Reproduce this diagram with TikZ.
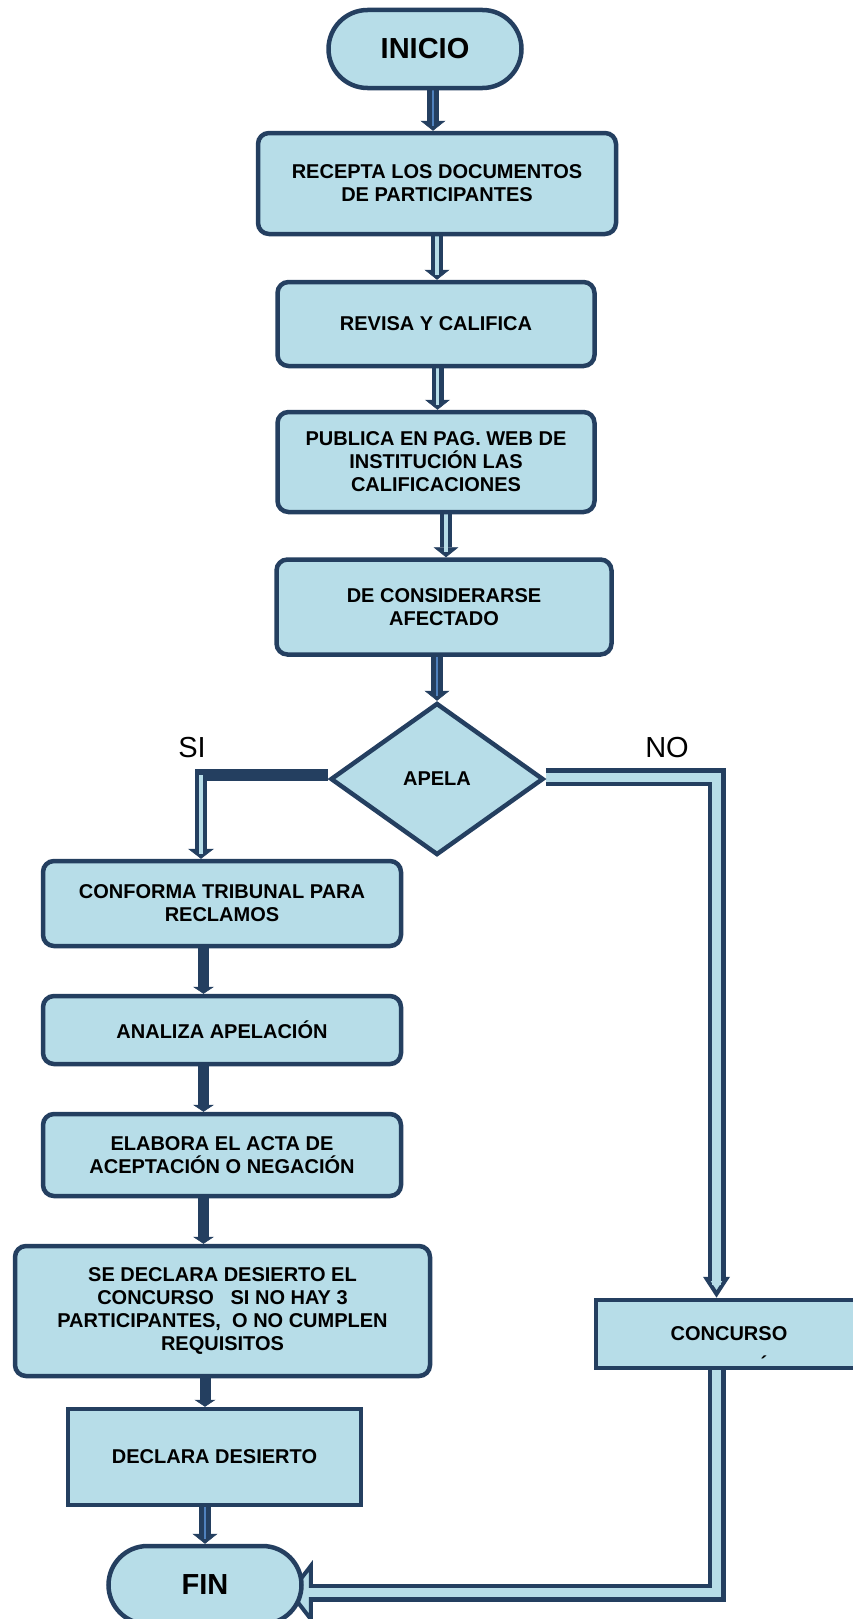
\documentclass[tikz,border=0pt]{standalone}
\usepackage{fontspec}
\setmainfont{Liberation Sans}
\usetikzlibrary{arrows.meta,shapes.geometric}
\definecolor{edgeblue}{HTML}{243F60}
\definecolor{boxfill}{HTML}{B7DDE8}
\definecolor{midblue}{HTML}{4F81BD}
\pgfdeclarelayer{back}
\pgfsetlayers{back,main}
\begin{document}
\begin{tikzpicture}[x=1pt,y=-1pt,
  every node/.style={font=\fontsize{20}{23}\selectfont\bfseries, align=center, text=black},
  box/.style={draw=edgeblue, fill=boxfill, line width=4.5pt, rounded corners=11pt, inner sep=0pt},
  sqbox/.style={draw=edgeblue, fill=boxfill, line width=4.5pt, inner sep=0pt},
  term/.style={draw=edgeblue, fill=boxfill, line width=4.5pt, rounded corners=39pt, inner sep=0pt,
    minimum width=193pt, minimum height=78pt, font=\fontsize{29}{33}\selectfont\bfseries},
  choice/.style={diamond, draw=edgeblue, fill=boxfill, line width=4.5pt, inner sep=0pt},
  branch/.style={font=\fontsize{29}{33}\selectfont},
  % narrow block arrows: dark casing plus a light core
  thinout/.style={draw=edgeblue, line width=12pt, -{Triangle[width=25pt,length=10pt,line width=0.5pt]}},
  thincore/.style={draw=boxfill, line width=3.5pt, shorten >=5pt},
  bluecore/.style={draw=midblue, line width=2.5pt, shorten >=5pt},
  solidlink/.style={draw=edgeblue, line width=11pt, -{Triangle[width=21pt,length=7pt,line width=0.5pt]}},
  % wide block arrows with outlined heads
  wideout/.style={draw=edgeblue, line width=18pt, line join=miter},
  widecore/.style={draw=boxfill, line width=9pt, line join=miter},
]
\useasboundingbox (0,0) rectangle (853,1619);
\clip (0,0) rectangle (853,1619);

% main column
\node[term] (ini) at (425,49) {INICIO};
\node[box, minimum width=358pt, minimum height=101pt] (rec) at (437,183.5) {RECEPTA LOS DOCUMENTOS\\DE PARTICIPANTES};
\node[box, minimum width=317pt, minimum height=84pt] (rev) at (436,324) {REVISA Y CALIFICA};
\node[box, minimum width=317pt, minimum height=100pt] (pub) at (436,462) {PUBLICA EN PAG. WEB DE\\INSTITUCIÓN LAS\\CALIFICACIONES};
\node[box, minimum width=335pt, minimum height=95pt] (cons) at (444,607) {DE CONSIDERARSE\\AFECTADO};
\node[choice, minimum width=213pt, minimum height=152pt] (dec) at (437,779) {APELA};
\node[branch] (lsi) at (192,748) {SI};
\node[branch] (lno) at (667,748) {NO};

% left branch
\node[box, minimum width=358pt, minimum height=85pt] (conf) at (222,903.5) {CONFORMA TRIBUNAL PARA\\RECLAMOS};
\node[box, minimum width=358pt, minimum height=68pt] (ana) at (222,1030) {ANALIZA APELACIÓN};
\node[box, minimum width=358pt, minimum height=82pt] (ela) at (222,1155) {ELABORA EL ACTA DE\\ACEPTACIÓN O NEGACIÓN};
\node[box, minimum width=415pt, minimum height=130pt] (sed) at (222.5,1311) {SE DECLARA DESIERTO EL\\CONCURSO\ \ \ SI NO HAY 3\\PARTICIPANTES,\ \ O NO CUMPLEN\\REQUISITOS};
\node[sqbox, minimum width=293pt, minimum height=96pt] (desi) at (214.5,1457) {DECLARA DESIERTO};
\node[term] (fin) at (205,1585) {FIN};

% right branch
\node[sqbox, minimum width=266pt, minimum height=68pt] (conc) at (729,1334) {CONCURSO};
\node[anchor=base] (acc) at (764,1370) {´};

% bend points of the two branches
\coordinate (sistart) at ([yshift=4pt]dec.west);
\coordinate (nostart) at ([yshift=2pt]dec.east);
\coordinate (siend) at ([xshift=-21pt]conf.north);
\coordinate (noend) at ([xshift=-12.5pt]conc.north);
\coordinate (finend) at ([xshift=-16pt,yshift=-7.5pt]fin.east);

\begin{pgfonlayer}{back}
\clip (0,0) rectangle (853,1619);
% INICIO -> RECEPTA
\draw[thinout] ([xshift=8pt]ini.south) -- ([xshift=8pt]ini.south |- rec.north);
\draw[bluecore] ([xshift=8pt]ini.south) -- ([xshift=8pt]ini.south |- rec.north);
% RECEPTA -> REVISA
\draw[thinout] (rec.south) -- (rec.south |- rev.north);
\draw[thincore] (rec.south) -- (rec.south |- rev.north);
% REVISA -> PUBLICA
\draw[thinout] ([xshift=1.5pt]rev.south) -- ([xshift=1.5pt]rev.south |- pub.north);
\draw[thincore] ([xshift=1.5pt]rev.south) -- ([xshift=1.5pt]rev.south |- pub.north);
% PUBLICA -> DE CONSIDERARSE
\draw[thinout] ([xshift=10pt]pub.south) -- ([xshift=10pt]pub.south |- cons.north);
\draw[thincore] ([xshift=10pt]pub.south) -- ([xshift=10pt]pub.south |- cons.north);
% DE CONSIDERARSE -> APELA
\draw[thinout] (dec.north |- cons.south) -- (dec.north);
\draw[bluecore] (dec.north |- cons.south) -- (dec.north);
% SI branch
\draw[draw=edgeblue, line width=12pt, -{Triangle[width=26pt,length=10pt,line width=0.5pt]}]
  (sistart) -| (siend);
\draw[thincore] (siend |- sistart) -- (siend);
% NO branch
\draw[wideout, -{Triangle[width=26pt,length=21pt,line width=4pt,fill=boxfill]}]
  (nostart) -| (noend);
\draw[widecore, shorten >=13pt] (nostart) -| (noend);
% left column
\draw[solidlink] ([xshift=-18.5pt]conf.south) -- ([xshift=-18.5pt]conf.south |- ana.north);
\draw[solidlink] ([xshift=-18.5pt]ana.south) -- ([xshift=-18.5pt]ana.south |- ela.north);
\draw[solidlink] ([xshift=-18.5pt]ela.south) -- ([xshift=-18.5pt]ela.south |- sed.north);
\draw[solidlink] ([xshift=-17.5pt]sed.south) -- ([xshift=-17.5pt]sed.south |- desi.north);
% DECLARA DESIERTO -> FIN
\draw[thinout] (fin.north |- desi.south) -- (fin.north);
\draw[bluecore] (fin.north |- desi.south) -- (fin.north);
% CONCURSO -> FIN
\draw[wideout, -{Triangle[width=64pt,length=25pt,line width=4pt,fill=boxfill]}]
  ([xshift=-12.5pt]conc.south) |- (finend);
\draw[widecore, shorten >=20pt] ([xshift=-12.5pt]conc.south) |- (finend);
\end{pgfonlayer}
\end{tikzpicture}
\end{document}
